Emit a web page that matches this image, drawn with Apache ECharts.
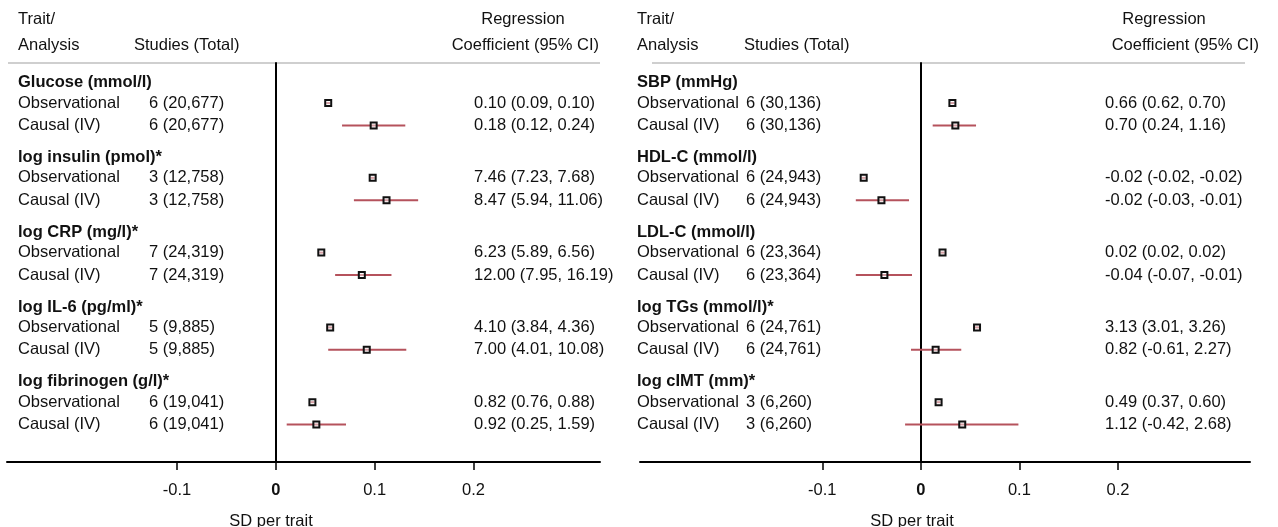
<!DOCTYPE html>
<html><head><meta charset="utf-8">
<script src="https://cdn.jsdelivr.net/npm/echarts@6/dist/echarts.min.js"></script>
<style>html,body{margin:0;padding:0;background:#fff}#c{width:1278px;height:527px}</style>
</head><body><div id="c"></div><script>
// ---------- data ----------
const tickValues = [-0.1, 0, 0.1, 0.2];
const axisTitle = 'SD per trait';
const headerTrait = ['Trait/', 'Analysis'];
const headerStudies = 'Studies (Total)';
const headerCoef = ['Regression', 'Coefficient (95% CI)'];
const analysisNames = ['Observational', 'Causal (IV)'];

const leftTraits = ['Glucose (mmol/l)', 'log insulin (pmol)*', 'log CRP (mg/l)*', 'log IL-6 (pg/ml)*', 'log fibrinogen (g/l)*'];
const leftStudiesObs = ['6 (20,677)', '3 (12,758)', '7 (24,319)', '5 (9,885)', '6 (19,041)'];
const leftStudiesIV  = ['6 (20,677)', '3 (12,758)', '7 (24,319)', '5 (9,885)', '6 (19,041)'];
const leftCoefObs = ['0.10 (0.09, 0.10)', '7.46 (7.23, 7.68)', '6.23 (5.89, 6.56)', '4.10 (3.84, 4.36)', '0.82 (0.76, 0.88)'];
const leftCoefIV  = ['0.18 (0.12, 0.24)', '8.47 (5.94, 11.06)', '12.00 (7.95, 16.19)', '7.00 (4.01, 10.08)', '0.92 (0.25, 1.59)'];
const leftObsEst = [0.053, 0.098, 0.046, 0.055, 0.037];
const leftObsLo  = [0.051, 0.096, 0.044, 0.053, 0.035];
const leftObsHi  = [0.055, 0.100, 0.048, 0.057, 0.039];
const leftIVEst  = [0.099, 0.112, 0.087, 0.092, 0.041];
const leftIVLo   = [0.067, 0.079, 0.060, 0.053, 0.011];
const leftIVHi   = [0.131, 0.144, 0.117, 0.132, 0.071];

const rightTraits = ['SBP (mmHg)', 'HDL-C (mmol/l)', 'LDL-C (mmol/l)', 'log TGs (mmol/l)*', 'log cIMT (mm)*'];
const rightStudiesObs = ['6 (30,136)', '6 (24,943)', '6 (23,364)', '6 (24,761)', '3 (6,260)'];
const rightStudiesIV  = ['6 (30,136)', '6 (24,943)', '6 (23,364)', '6 (24,761)', '3 (6,260)'];
const rightCoefObs = ['0.66 (0.62, 0.70)', '-0.02 (-0.02, -0.02)', '0.02 (0.02, 0.02)', '3.13 (3.01, 3.26)', '0.49 (0.37, 0.60)'];
const rightCoefIV  = ['0.70 (0.24, 1.16)', '-0.02 (-0.03, -0.01)', '-0.04 (-0.07, -0.01)', '0.82 (-0.61, 2.27)', '1.12 (-0.42, 2.68)'];
const rightObsEst = [0.032, -0.058, 0.022, 0.057, 0.018];
const rightObsLo  = [0.030, -0.060, 0.020, 0.055, 0.016];
const rightObsHi  = [0.034, -0.056, 0.024, 0.059, 0.020];
const rightIVEst  = [0.035, -0.040, -0.037, 0.015, 0.042];
const rightIVLo   = [0.012, -0.066, -0.066, -0.010, -0.016];
const rightIVHi   = [0.056, -0.012, -0.009, 0.041, 0.099];

// ---------- layout ----------
const FONT = '"Liberation Sans", Arial, Helvetica, sans-serif';
const FS = 16.5;
const TXT = '#111';
const CI_COLOR = '#b5525c';
const GROUP_STEP = 7, OBS_OFF = 1.9, IV_OFF = 4;
const Y_MIN = -1.85, Y_MAX = 35.5;

const panels = [
  { grid: {left: 7, top: 63, width: 593, height: 399}, xmin: -0.272, xmax: 0.328,
    colLabel: 18, colStudies: 149, colCoef: 474, hdrStudies: 134, hdrCoefRight: 599, hdrRegCenter: 523,
    rule: [8, 600], titleX: 271,
    traits: leftTraits, sObs: leftStudiesObs, sIV: leftStudiesIV, cObs: leftCoefObs, cIV: leftCoefIV,
    oE: leftObsEst, oL: leftObsLo, oH: leftObsHi, iE: leftIVEst, iL: leftIVLo, iH: leftIVHi },
  { grid: {left: 640, top: 63, width: 610, height: 399}, xmin: -0.285, xmax: 0.334,
    colLabel: 637, colStudies: 746, colCoef: 1105, hdrStudies: 744, hdrCoefRight: 1259, hdrRegCenter: 1164,
    rule: [652, 1245], titleX: 912,
    traits: rightTraits, sObs: rightStudiesObs, sIV: rightStudiesIV, cObs: rightCoefObs, cIV: rightCoefIV,
    oE: rightObsEst, oL: rightObsLo, oH: rightObsHi, iE: rightIVEst, iL: rightIVLo, iH: rightIVHi }
];

const grids = [], xAxes = [], yAxes = [], series = [], graphics = [];

panels.forEach((p, pi) => {
  grids.push(Object.assign({containLabel: false}, p.grid));
  xAxes.push({
    type: 'value', gridIndex: pi, min: p.xmin, max: p.xmax,
    axisLine: {show: true, onZero: false, lineStyle: {color: '#000', width: 2}},
    axisTick: {show: true, inside: false, length: 8, customValues: tickValues, lineStyle: {color: '#000', width: 1.5}},
    axisLabel: {show: true, customValues: tickValues, margin: 20, color: TXT, fontFamily: FONT, fontSize: FS,
      formatter: v => (v === 0 ? '{b|0}' : String(v)),
      rich: {b: {fontWeight: 'bold', fontFamily: FONT, fontSize: FS, color: TXT}}},
    splitLine: {show: false}
  });
  yAxes.push({
    type: 'value', gridIndex: pi, inverse: true, min: Y_MIN, max: Y_MAX,
    axisLine: {show: true, onZero: true, lineStyle: {color: '#000', width: 2}},
    axisTick: {show: false}, axisLabel: {show: false}, splitLine: {show: false}
  });

  // rows: header, observational, IV for each trait
  const rows = [];
  p.traits.forEach((t, g) => {
    rows.push({u: g * GROUP_STEP, bold: true, label: t, studies: '', coef: ''});
    rows.push({u: g * GROUP_STEP + OBS_OFF, bold: false, label: analysisNames[0], studies: p.sObs[g], coef: p.cObs[g]});
    rows.push({u: g * GROUP_STEP + IV_OFF, bold: false, label: analysisNames[1], studies: p.sIV[g], coef: p.cIV[g]});
  });

  // text table
  series.push({
    type: 'custom', xAxisIndex: pi, yAxisIndex: pi, silent: true, z: 1,
    data: rows.map((r, i) => [0, r.u, i]),
    renderItem: (params, api) => {
      const r = rows[api.value(2)];
      const y = api.coord([0, api.value(1)])[1];
      const mk = (x, text, bold) => ({type: 'text', style: {x: x, y: y, text: text, fill: TXT,
        font: (bold ? 'bold ' : '') + FS + 'px ' + FONT, textAlign: 'left', textVerticalAlign: 'middle'}});
      const ch = [mk(p.colLabel, r.label, r.bold)];
      if (r.studies) ch.push(mk(p.colStudies, r.studies, false));
      if (r.coef) ch.push(mk(p.colCoef, r.coef, false));
      return {type: 'group', children: ch};
    }
  });

  // CI lines
  const ciData = [];
  p.traits.forEach((t, g) => {
    ciData.push([p.oL[g], p.oH[g], g * GROUP_STEP + OBS_OFF]);
    ciData.push([p.iL[g], p.iH[g], g * GROUP_STEP + IV_OFF]);
  });
  series.push({
    type: 'custom', xAxisIndex: pi, yAxisIndex: pi, silent: true, z: 2,
    data: ciData,
    renderItem: (params, api) => {
      const a = api.coord([api.value(0), api.value(2)]);
      const b = api.coord([api.value(1), api.value(2)]);
      return {type: 'line', shape: {x1: a[0], y1: a[1], x2: b[0], y2: b[1]},
        style: {stroke: CI_COLOR, lineWidth: 2}};
    }
  });

  // point estimates
  const ptData = [];
  p.traits.forEach((t, g) => {
    ptData.push([p.oE[g], g * GROUP_STEP + OBS_OFF]);
    ptData.push([p.iE[g], g * GROUP_STEP + IV_OFF]);
  });
  series.push({
    type: 'scatter', xAxisIndex: pi, yAxisIndex: pi, silent: true, z: 3,
    symbol: 'rect', symbolSize: 6, data: ptData,
    itemStyle: {color: 'rgba(255,255,255,0.45)', borderColor: '#111', borderWidth: 2, opacity: 1}
  });

  // headers & decorations
  const tStyle = (x, y, text, align) => ({type: 'text', x: x, y: y, silent: true,
    style: {text: text, fill: TXT, font: FS + 'px ' + FONT, textAlign: align, textVerticalAlign: 'middle'}});
  graphics.push(tStyle(p.colLabel, 19, headerTrait[0], 'left'));
  graphics.push(tStyle(p.colLabel, 45, headerTrait[1], 'left'));
  graphics.push(tStyle(p.hdrStudies, 45, headerStudies, 'left'));
  graphics.push(tStyle(p.hdrRegCenter, 19, headerCoef[0], 'center'));
  graphics.push(tStyle(p.hdrCoefRight, 45, headerCoef[1], 'right'));
  graphics.push({type: 'line', silent: true, shape: {x1: p.rule[0], y1: 63, x2: p.rule[1], y2: 63},
    style: {stroke: '#cfcfcf', lineWidth: 2}});
  graphics.push(tStyle(p.titleX, 521, axisTitle, 'center'));
});

const chart = echarts.init(document.getElementById('c'), null, {renderer: 'canvas'});
chart.setOption({
  animation: false,
  backgroundColor: '#fff',
  grid: grids, xAxis: xAxes, yAxis: yAxes, series: series, graphic: graphics
});
</script></body></html>
